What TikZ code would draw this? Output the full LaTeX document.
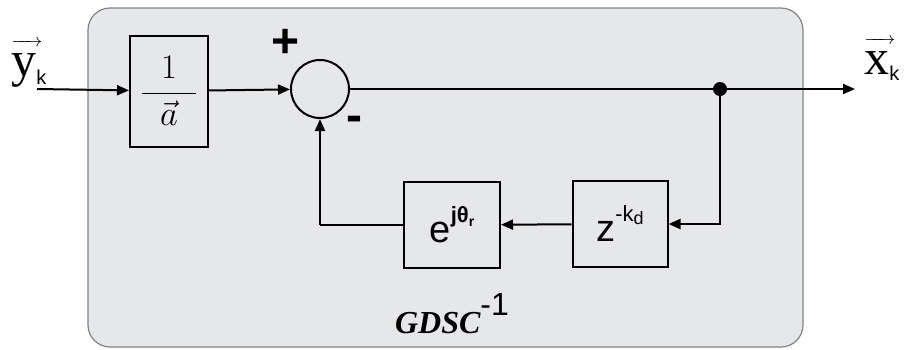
\documentclass[tikz,border=0pt]{standalone}
\usepackage{amsmath}
\usepackage{fontspec}
\setmainfont{Liberation Sans}
\newfontfamily\timesfont{Liberation Serif}
\usetikzlibrary{arrows.meta,positioning,calc}
\definecolor{panelgray}{RGB}{230,231,232}
\definecolor{rimgray}{RGB}{130,130,130}
% letter with a thin arrow over it
\newcommand{\arrowover}[1]{\setbox0\hbox{#1}\vbox{\hbox{\rlap{\hbox to\dimexpr\wd0+3pt\relax{\fontsize{9}{9}\selectfont\rightarrowfill}}}\kern3pt\box0}}

\begin{document}
\begin{tikzpicture}[x=0.5pt, y=-0.5pt,
  block/.style={rectangle, draw, line width=1pt, minimum width=48pt, minimum height=43pt, inner sep=0pt},
  adder/.style={circle, draw, line width=1pt, minimum size=29pt, inner sep=0pt},
  line/.style={draw, line width=1pt, -{Triangle[length=6pt, width=5pt]}},
  wire/.style={draw, line width=1pt}]

  \useasboundingbox (0,0) rectangle (904,349);
  % gray panel
  \filldraw[fill=panelgray, draw=rimgray, line width=0.6pt, rounded corners=11pt] (88,8) rectangle (803,347);

  \node [block, minimum width=39pt, minimum height=55.5pt, font=\fontsize{16}{16}\selectfont] (inv) at (169,91) {$\dfrac{\;\;1\;\;}{\vec{a}}$};
  \node [adder] (sum) at (320,89) {};
  \node [block] (rot) at (452,225) {\fontsize{19}{19}\selectfont e\raisebox{10pt}{\fontsize{11}{11}\selectfont\bfseries jθ\raisebox{-2pt}{\fontsize{7}{7}\selectfont r}}};
  \node [block, minimum width=47.5pt] (delay) at (620,224) {\fontsize{19}{19}\selectfont z\raisebox{10pt}{\fontsize{11}{11}\selectfont -k\raisebox{-1.5pt}{\fontsize{9}{9}\selectfont d}}};

  \coordinate (in) at (37,89);
  \coordinate (out) at (855,89);
  \coordinate (tap) at (720,89);
  \coordinate (back) at (720,224);
  \coordinate (turn) at (320,225);

  \node [anchor=base west, inner sep=0pt] (ylab) at (11,76) {\arrowover{\timesfont\fontsize{25}{25}\selectfont y}\raisebox{-4pt}{\fontsize{10}{10}\selectfont k}};
  \node [anchor=base west, inner sep=0pt] (xlab) at (864,74) {\arrowover{\timesfont\fontsize{25}{25}\selectfont x}\raisebox{-3pt}{\fontsize{10}{10}\selectfont k}};
  \node [font=\fontsize{24}{24}\selectfont\bfseries] (plus) at (286,43) {+};
  \node [font=\fontsize{24}{24}\selectfont\bfseries] (minus) at (354,124) {-};
  \node [anchor=base, inner sep=0pt] (title) at (452,333) {{\timesfont\fontsize{16}{16}\selectfont\bfseries\itshape GDSC}\raisebox{9pt}{\fontsize{16}{16}\selectfont -1}};

  \path [line] (in) -- (inv);
  \path [line] (inv) -- (sum);
  \path [line] (sum) -- (out);
  \fill (tap) circle (3.5pt);
  \path [line] (tap) -- (back) -- (delay);
  \path [line] (delay) -- (rot);
  \path [wire] (rot) -- (turn);
  \path [line] (turn) -- (sum);
\end{tikzpicture}
\end{document}
